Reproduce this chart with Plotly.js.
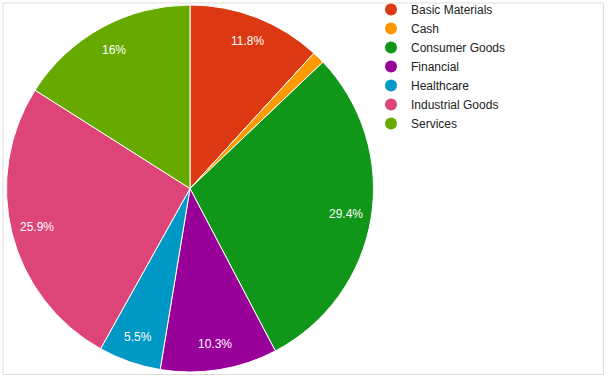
<!DOCTYPE html>
<html><head><meta charset="utf-8">
<script src="https://cdn.plot.ly/plotly-3.0.1.min.js"></script>
<style>body{margin:0;padding:0;background:#fff}#chart{width:610px;height:382px}</style>
</head><body><div id="chart"></div>
<script>
const categories = ["Basic Materials","Cash","Consumer Goods","Financial","Healthcare","Industrial Goods","Services"];
const values = [11.8, 1.1, 29.4, 10.3, 5.5, 25.9, 16.0];
const colors = ["#dc3912","#ff9900","#109618","#990099","#0099c6","#dd4477","#66aa00"];
const sliceLabels = ["11.8%","","29.4%","10.3%","5.5%","25.9%","16%"];

const W = 610, H = 382;
const FONT = "Arial, 'Liberation Sans', sans-serif";
// pie placement (pixels)
const PX0 = 5, PX1 = 375, PY0 = 5, PY1 = 372;
const cxPx = (PX0 + PX1) / 2, cyPx = (PY0 + PY1) / 2;
const rPx = Math.min(PX1 - PX0, PY1 - PY0) / 2;
const labelRadius = 0.86;

const traces = [{
  type: "pie",
  labels: categories,
  values: values,
  textinfo: "none",
  marker: {colors: colors, line: {color: "#ffffff", width: 1}},
  sort: false,
  direction: "clockwise",
  rotation: 0,
  showlegend: false,
  hoverinfo: "label+percent",
  domain: {x: [PX0/W, PX1/W], y: [(H-PY1)/H, (H-PY0)/H]}
}];
categories.forEach((c, i) => {
  traces.push({
    type: "scatter", mode: "markers", x: [null], y: [null], name: c,
    marker: {color: colors[i], size: 12, symbol: "circle"},
    showlegend: true, hoverinfo: "skip"
  });
});

// slice labels placed at the middle angle of each slice
const total = values.reduce((a, b) => a + b, 0);
const annotations = [];
let cum = 0;
values.forEach((v, i) => {
  const mid = (cum + v / 2) / total * 2 * Math.PI;
  cum += v;
  if (!sliceLabels[i]) return;
  const x = cxPx + labelRadius * rPx * Math.sin(mid);
  const y = cyPx - labelRadius * rPx * Math.cos(mid);
  annotations.push({
    xref: "paper", yref: "paper", x: x / W, y: 1 - y / H,
    text: sliceLabels[i], showarrow: false, xanchor: "center", yanchor: "middle",
    font: {family: FONT, size: 12, color: "#ffffff"}
  });
});

const layout = {
  width: W, height: H,
  margin: {l: 0, r: 0, t: 0, b: 0, autoexpand: false},
  paper_bgcolor: "#ffffff", plot_bgcolor: "rgba(0,0,0,0)",
  font: {family: FONT, size: 12, color: "#222222"},
  xaxis: {visible: false, domain: [0.7, 0.71]},
  yaxis: {visible: false, domain: [0.0, 0.01]},
  showlegend: true,
  legend: {
    x: 371/W, xanchor: "left", y: 1 + 5/H, yanchor: "top",
    bgcolor: "rgba(0,0,0,0)", borderwidth: 0,
    font: {family: FONT, size: 12, color: "#222222"},
    tracegroupgap: 0, itemclick: false, itemdoubleclick: false
  },
  annotations: annotations,
  shapes: [{
    type: "rect", xref: "paper", yref: "paper",
    x0: 3/W, x1: 603.5/W, y0: 1 - 374.5/H, y1: 1 - 3/H,
    line: {color: "#dddddd", width: 1}, fillcolor: "rgba(0,0,0,0)", layer: "below"
  }]
};
Plotly.newPlot("chart", traces, layout, {displayModeBar: false, staticPlot: true});
</script></body></html>
